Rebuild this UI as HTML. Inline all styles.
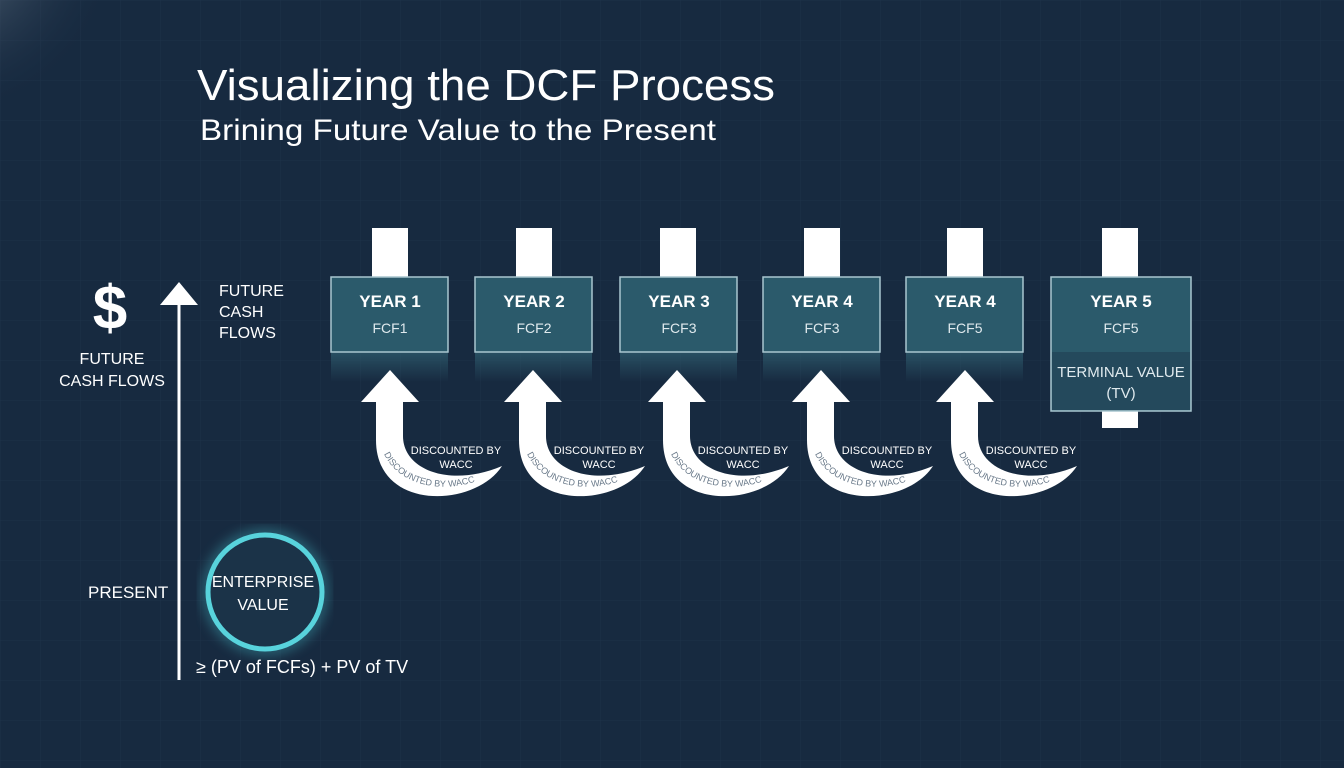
<!DOCTYPE html>
<html><head><meta charset="utf-8"><style>
html,body{margin:0;padding:0;background:#172a40;}
svg{display:block;font-family:"Liberation Sans",sans-serif;}
</style></head><body>
<svg width="1344" height="768" viewBox="0 0 1344 768" xmlns="http://www.w3.org/2000/svg">
<defs>
<pattern id="grid" width="40" height="40" patternUnits="userSpaceOnUse">
<path d="M40 0H0V40" fill="none" stroke="#1e3249" stroke-width="1"/>
</pattern>
<radialGradient id="glowTL" cx="0" cy="0" r="1">
<stop offset="0" stop-color="#8a9aaa" stop-opacity="0.8"/>
<stop offset="1" stop-color="#172a40" stop-opacity="0"/>
</radialGradient>
<linearGradient id="refl" x1="0" y1="0" x2="0" y2="1">
<stop offset="0" stop-color="#2d5a6c" stop-opacity="0.8"/>
<stop offset="1" stop-color="#2d5a6c" stop-opacity="0"/>
</linearGradient>
<filter id="blur"><feGaussianBlur stdDeviation="6"/></filter>
<g id="arrow">
<path d="M0 0 L29 32 L13 32 L13 66 C13 100 60 118 112 96 C85 138 -14 142 -14 70 L-14 32 L-29 32 Z" fill="#ffffff"/>
<text x="66" y="84" font-size="11" fill="#fff" text-anchor="middle">DISCOUNTED BY</text>
<text x="66" y="98" font-size="11" fill="#fff" text-anchor="middle">WACC</text>
<path id="arc" d="M-6 84 C8 114 52 128 100 106" fill="none"/>
</g>
</defs>
<rect width="1344" height="768" fill="#172a40"/>
<rect width="1344" height="768" fill="url(#grid)"/>
<rect x="-60" y="-60" width="180" height="180" fill="url(#glowTL)"/>

<text x="197" y="100" font-size="44" fill="#fff" textLength="578" lengthAdjust="spacingAndGlyphs">Visualizing the DCF Process</text>
<text x="200" y="140" font-size="30" fill="#fff" textLength="516" lengthAdjust="spacingAndGlyphs">Brining Future Value to the Present</text>

<line x1="179" y1="300" x2="179" y2="680" stroke="#fff" stroke-width="3"/>
<path d="M160 305 L179 282 L198 305 Z" fill="#fff"/>
<text x="110" y="329" font-size="62" font-weight="bold" fill="#fff" text-anchor="middle">$</text>
<text x="112" y="364" font-size="16" fill="#fff" text-anchor="middle">FUTURE</text>
<text x="112" y="386" font-size="16" fill="#fff" text-anchor="middle">CASH FLOWS</text>
<text x="219" y="296" font-size="16" fill="#fff">FUTURE</text>
<text x="219" y="317" font-size="16" fill="#fff">CASH</text>
<text x="219" y="338" font-size="16" fill="#fff">FLOWS</text>
<text x="88" y="598" font-size="17" fill="#fff">PRESENT</text>
<circle cx="265" cy="592" r="57" fill="none" stroke="#4fd6e0" stroke-width="12" opacity="0.35" filter="url(#blur)"/>
<circle cx="265" cy="592" r="57" fill="#1b3348" stroke="#58d3dc" stroke-width="5"/>
<text x="263" y="587" font-size="16" fill="#fff" text-anchor="middle">ENTERPRISE</text>
<text x="263" y="610" font-size="16" fill="#fff" text-anchor="middle">VALUE</text>
<text x="196" y="673" font-size="18" fill="#fff">≥ (PV of FCFs) + PV of TV</text>

<g>
<rect x="372" y="228" width="36" height="50" fill="#fff"/>
<rect x="331" y="352" width="117" height="30" fill="url(#refl)"/>
<rect x="331" y="277" width="117" height="75" fill="#2b5a6b" stroke="#a9c6cf" stroke-width="1.5"/>
<text x="390" y="307" font-size="17" font-weight="bold" fill="#fff" text-anchor="middle">YEAR 1</text>
<text x="390" y="333" font-size="14" fill="#e0eaee" text-anchor="middle">FCF1</text>

<rect x="516" y="228" width="36" height="50" fill="#fff"/>
<rect x="475" y="352" width="117" height="30" fill="url(#refl)"/>
<rect x="475" y="277" width="117" height="75" fill="#2b5a6b" stroke="#a9c6cf" stroke-width="1.5"/>
<text x="534" y="307" font-size="17" font-weight="bold" fill="#fff" text-anchor="middle">YEAR 2</text>
<text x="534" y="333" font-size="14" fill="#e0eaee" text-anchor="middle">FCF2</text>

<rect x="660" y="228" width="36" height="50" fill="#fff"/>
<rect x="620" y="352" width="117" height="30" fill="url(#refl)"/>
<rect x="620" y="277" width="117" height="75" fill="#2b5a6b" stroke="#a9c6cf" stroke-width="1.5"/>
<text x="679" y="307" font-size="17" font-weight="bold" fill="#fff" text-anchor="middle">YEAR 3</text>
<text x="679" y="333" font-size="14" fill="#e0eaee" text-anchor="middle">FCF3</text>

<rect x="804" y="228" width="36" height="50" fill="#fff"/>
<rect x="763" y="352" width="117" height="30" fill="url(#refl)"/>
<rect x="763" y="277" width="117" height="75" fill="#2b5a6b" stroke="#a9c6cf" stroke-width="1.5"/>
<text x="822" y="307" font-size="17" font-weight="bold" fill="#fff" text-anchor="middle">YEAR 4</text>
<text x="822" y="333" font-size="14" fill="#e0eaee" text-anchor="middle">FCF3</text>

<rect x="947" y="228" width="36" height="50" fill="#fff"/>
<rect x="906" y="352" width="117" height="30" fill="url(#refl)"/>
<rect x="906" y="277" width="117" height="75" fill="#2b5a6b" stroke="#a9c6cf" stroke-width="1.5"/>
<text x="965" y="307" font-size="17" font-weight="bold" fill="#fff" text-anchor="middle">YEAR 4</text>
<text x="965" y="333" font-size="14" fill="#e0eaee" text-anchor="middle">FCF5</text>

<rect x="1102" y="228" width="36" height="200" fill="#fff"/>
<rect x="1051" y="277" width="140" height="134" fill="#2b5a6b" stroke="#a9c6cf" stroke-width="1.5"/>
<rect x="1052" y="352" width="138" height="58" fill="#24495c"/>
<text x="1121" y="307" font-size="17" font-weight="bold" fill="#fff" text-anchor="middle">YEAR 5</text>
<text x="1121" y="333" font-size="14" fill="#e0eaee" text-anchor="middle">FCF5</text>
<text x="1121" y="377" font-size="15" fill="#e0eaee" text-anchor="middle">TERMINAL VALUE</text>
<text x="1121" y="398" font-size="15" fill="#e0eaee" text-anchor="middle">(TV)</text>
</g>

<g transform="translate(390,370)"><use href="#arrow"/><text font-size="9" fill="#6a7a8a"><textPath href="#arc">DISCOUNTED BY WACC</textPath></text></g>
<g transform="translate(533,370)"><use href="#arrow"/><text font-size="9" fill="#6a7a8a"><textPath href="#arc">DISCOUNTED BY WACC</textPath></text></g>
<g transform="translate(677,370)"><use href="#arrow"/><text font-size="9" fill="#6a7a8a"><textPath href="#arc">DISCOUNTED BY WACC</textPath></text></g>
<g transform="translate(821,370)"><use href="#arrow"/><text font-size="9" fill="#6a7a8a"><textPath href="#arc">DISCOUNTED BY WACC</textPath></text></g>
<g transform="translate(965,370)"><use href="#arrow"/><text font-size="9" fill="#6a7a8a"><textPath href="#arc">DISCOUNTED BY WACC</textPath></text></g>
</svg>
</body></html>
